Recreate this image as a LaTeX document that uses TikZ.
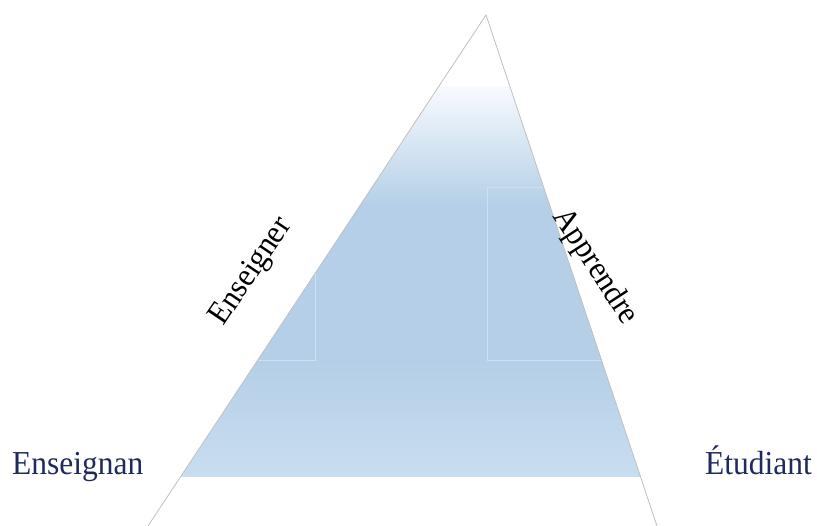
\documentclass[tikz,border=0pt]{standalone}
\usepackage{fontspec}
\setmainfont{Liberation Serif}
\newfontfamily\labelfont[FakeStretch=0.94]{Liberation Serif}
\usetikzlibrary{positioning}
\definecolor{labelnavy}{RGB}{31,42,94}
\definecolor{fillblue}{RGB}{180,207,231}
\definecolor{filltop}{RGB}{247,250,254}
\definecolor{fillbottom}{RGB}{201,221,240}
\definecolor{edgegray}{RGB}{192,192,192}
\colorlet{seamline}{fillblue!65!white}

\begin{document}
\begin{tikzpicture}[x=1pt,y=-1pt,every node/.style={font=\labelfont\fontsize{33.5}{33.5}\selectfont,inner sep=0pt}]
    \useasboundingbox (0,0) rectangle (817,526);
    \coordinate (apex) at (486,15);
    \coordinate (footL) at (148,526);
    \coordinate (footR) at (657,526);
    % blue body, clipped to the triangle
    \begin{scope}
      \clip (apex) -- (footL) -- (footR) -- cycle;
      \shade[top color=filltop,bottom color=fillblue] (0,87) rectangle (817,206);
      \fill[fillblue] (0,205) rectangle (817,361);
      \shade[top color=fillblue,bottom color=fillbottom] (0,360) rectangle (817,477);
      \draw[seamline,line width=.6pt] (487,187) -- (817,187) (487,187) -- (487,360) -- (817,360);
      \draw[seamline,line width=.6pt] (315,250) -- (315,360) -- (0,360);
    \end{scope}
    \draw[edgegray,line width=.8pt] (footL) -- (apex) -- (footR);
    \node[rotate=56,font=\labelfont\fontsize{32.5}{32.5}\selectfont] (teach) at (252,272) {Enseigner};
    \node[rotate=-57,font=\labelfont\fontsize{32.5}{32.5}\selectfont] (learn) at (595,267) {Apprendre};
    \node[anchor=base west,text=labelnavy] (teacher) at (12,475) {Enseignan};
    \node[anchor=base west,text=labelnavy] (student) at (705,475) {Étudiant};
  \end{tikzpicture}
\end{document}
